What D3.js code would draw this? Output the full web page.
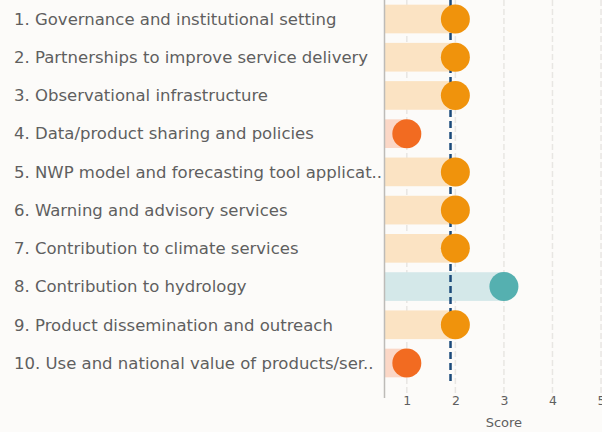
<!DOCTYPE html>
<html>
<head>
<meta charset="utf-8">
<script src="https://cdn.jsdelivr.net/npm/d3@7"></script>
<style>
  body { margin: 0; background: #fcfbf9; }
  svg { display: block; font-family: "DejaVu Sans", sans-serif; }
</style>
</head>
<body>
<div id="chart"></div>
<script>
// categories and scores
let categories = [
  "1. Governance and institutional setting",
  "2. Partnerships to improve service delivery",
  "3. Observational infrastructure",
  "4. Data/product sharing and policies",
  "5. NWP model and forecasting tool applicat..",
  "6. Warning and advisory services",
  "7. Contribution to climate services",
  "8. Contribution to hydrology",
  "9. Product dissemination and outreach",
  "10. Use and national value of products/ser.."
];
let scores = [2, 2, 2, 1, 2, 2, 2, 3, 2, 1];
let xTicks = [1, 2, 3, 4, 5];
let meanScore = 1.9;

let svgWidth = 602;
let svgHeight = 432;

let margin = { top: 0, right: 0, bottom: 48, left: 384 };
let width = svgWidth - margin.left - margin.right;
let height = svgHeight - margin.top - margin.bottom;

// colour by score
let dotColor = { 1: "#f26b21", 2: "#f0930c", 3: "#55b0b0" };
let barColor = { 1: "#fbd7c6", 2: "#fbe3c3", 3: "#d4e8e9" };

let svg = d3.select("#chart")
  .append("svg")
  .attr("width", svgWidth)
  .attr("height", svgHeight);

svg.append("rect")
  .attr("width", svgWidth)
  .attr("height", svgHeight)
  .attr("fill", "#fcfbf9");

let chartGroup = svg.append("g")
  .attr("transform", `translate(${margin.left}, ${margin.top})`);

let x = d3.scaleLinear()
  .domain([0.53, 5.02])
  .range([0, width]);

let y = d3.scaleBand()
  .domain(categories)
  .range([0, 382])
  .paddingInner(0.25)
  .paddingOuter(0.122);

// vertical grid lines
chartGroup.append("g")
  .selectAll("line")
  .data(xTicks)
  .enter()
  .append("line")
    .attr("x1", d => x(d))
    .attr("x2", d => x(d))
    .attr("y1", 0)
    .attr("y2", height + 14)
    .attr("stroke", "#e8e6e3")
    .attr("stroke-width", 1.5)
    .attr("stroke-dasharray", "6,3");

// bars
chartGroup.append("g")
  .selectAll("rect")
  .data(scores)
  .enter()
  .append("rect")
    .attr("x", 0)
    .attr("y", (d, i) => y(categories[i]))
    .attr("width", d => x(d))
    .attr("height", y.bandwidth())
    .attr("fill", d => barColor[d]);

// axis line on the left of the plot
chartGroup.append("line")
  .attr("x1", 0.5)
  .attr("x2", 0.5)
  .attr("y1", 0)
  .attr("y2", height + 14)
  .attr("stroke", "#bdbbb8")
  .attr("stroke-width", 1.5);

// mean line
chartGroup.append("line")
  .attr("x1", x(meanScore))
  .attr("x2", x(meanScore))
  .attr("y1", 0)
  .attr("y2", height)
  .attr("stroke", "#1b4a7a")
  .attr("stroke-width", 2.5)
  .attr("stroke-dasharray", "7,4");

// dots
chartGroup.append("g")
  .selectAll("circle")
  .data(scores)
  .enter()
  .append("circle")
    .attr("cx", d => x(d))
    .attr("cy", (d, i) => y(categories[i]) + y.bandwidth() / 2)
    .attr("r", 14.5)
    .attr("fill", d => dotColor[d]);

// category labels
svg.append("g")
  .selectAll("text")
  .data(categories)
  .enter()
  .append("text")
    .attr("x", 14)
    .attr("y", d => y(d) + y.bandwidth() / 2)
    .attr("dy", "0.35em")
    .attr("fill", "#5f5f5f")
    .attr("font-size", 16.5)
    .text(d => d);

// x axis
let bottomAxis = d3.axisBottom(x)
  .tickValues(xTicks)
  .tickFormat(d3.format("d"))
  .tickSize(0)
  .tickPadding(10);
let axisG = chartGroup.append("g")
  .attr("transform", `translate(0, ${height + 2})`)
  .call(bottomAxis);
axisG.select(".domain").remove();
axisG.selectAll("text")
  .attr("fill", "#5f5f5f")
  .attr("font-size", 12.5)
  .attr("font-family", "DejaVu Sans, sans-serif");

chartGroup.append("text")
  .attr("x", x(3))
  .attr("y", height + 43)
  .attr("text-anchor", "middle")
  .attr("fill", "#5f5f5f")
  .attr("font-size", 13)
  .text("Score");
</script>
</body>
</html>
